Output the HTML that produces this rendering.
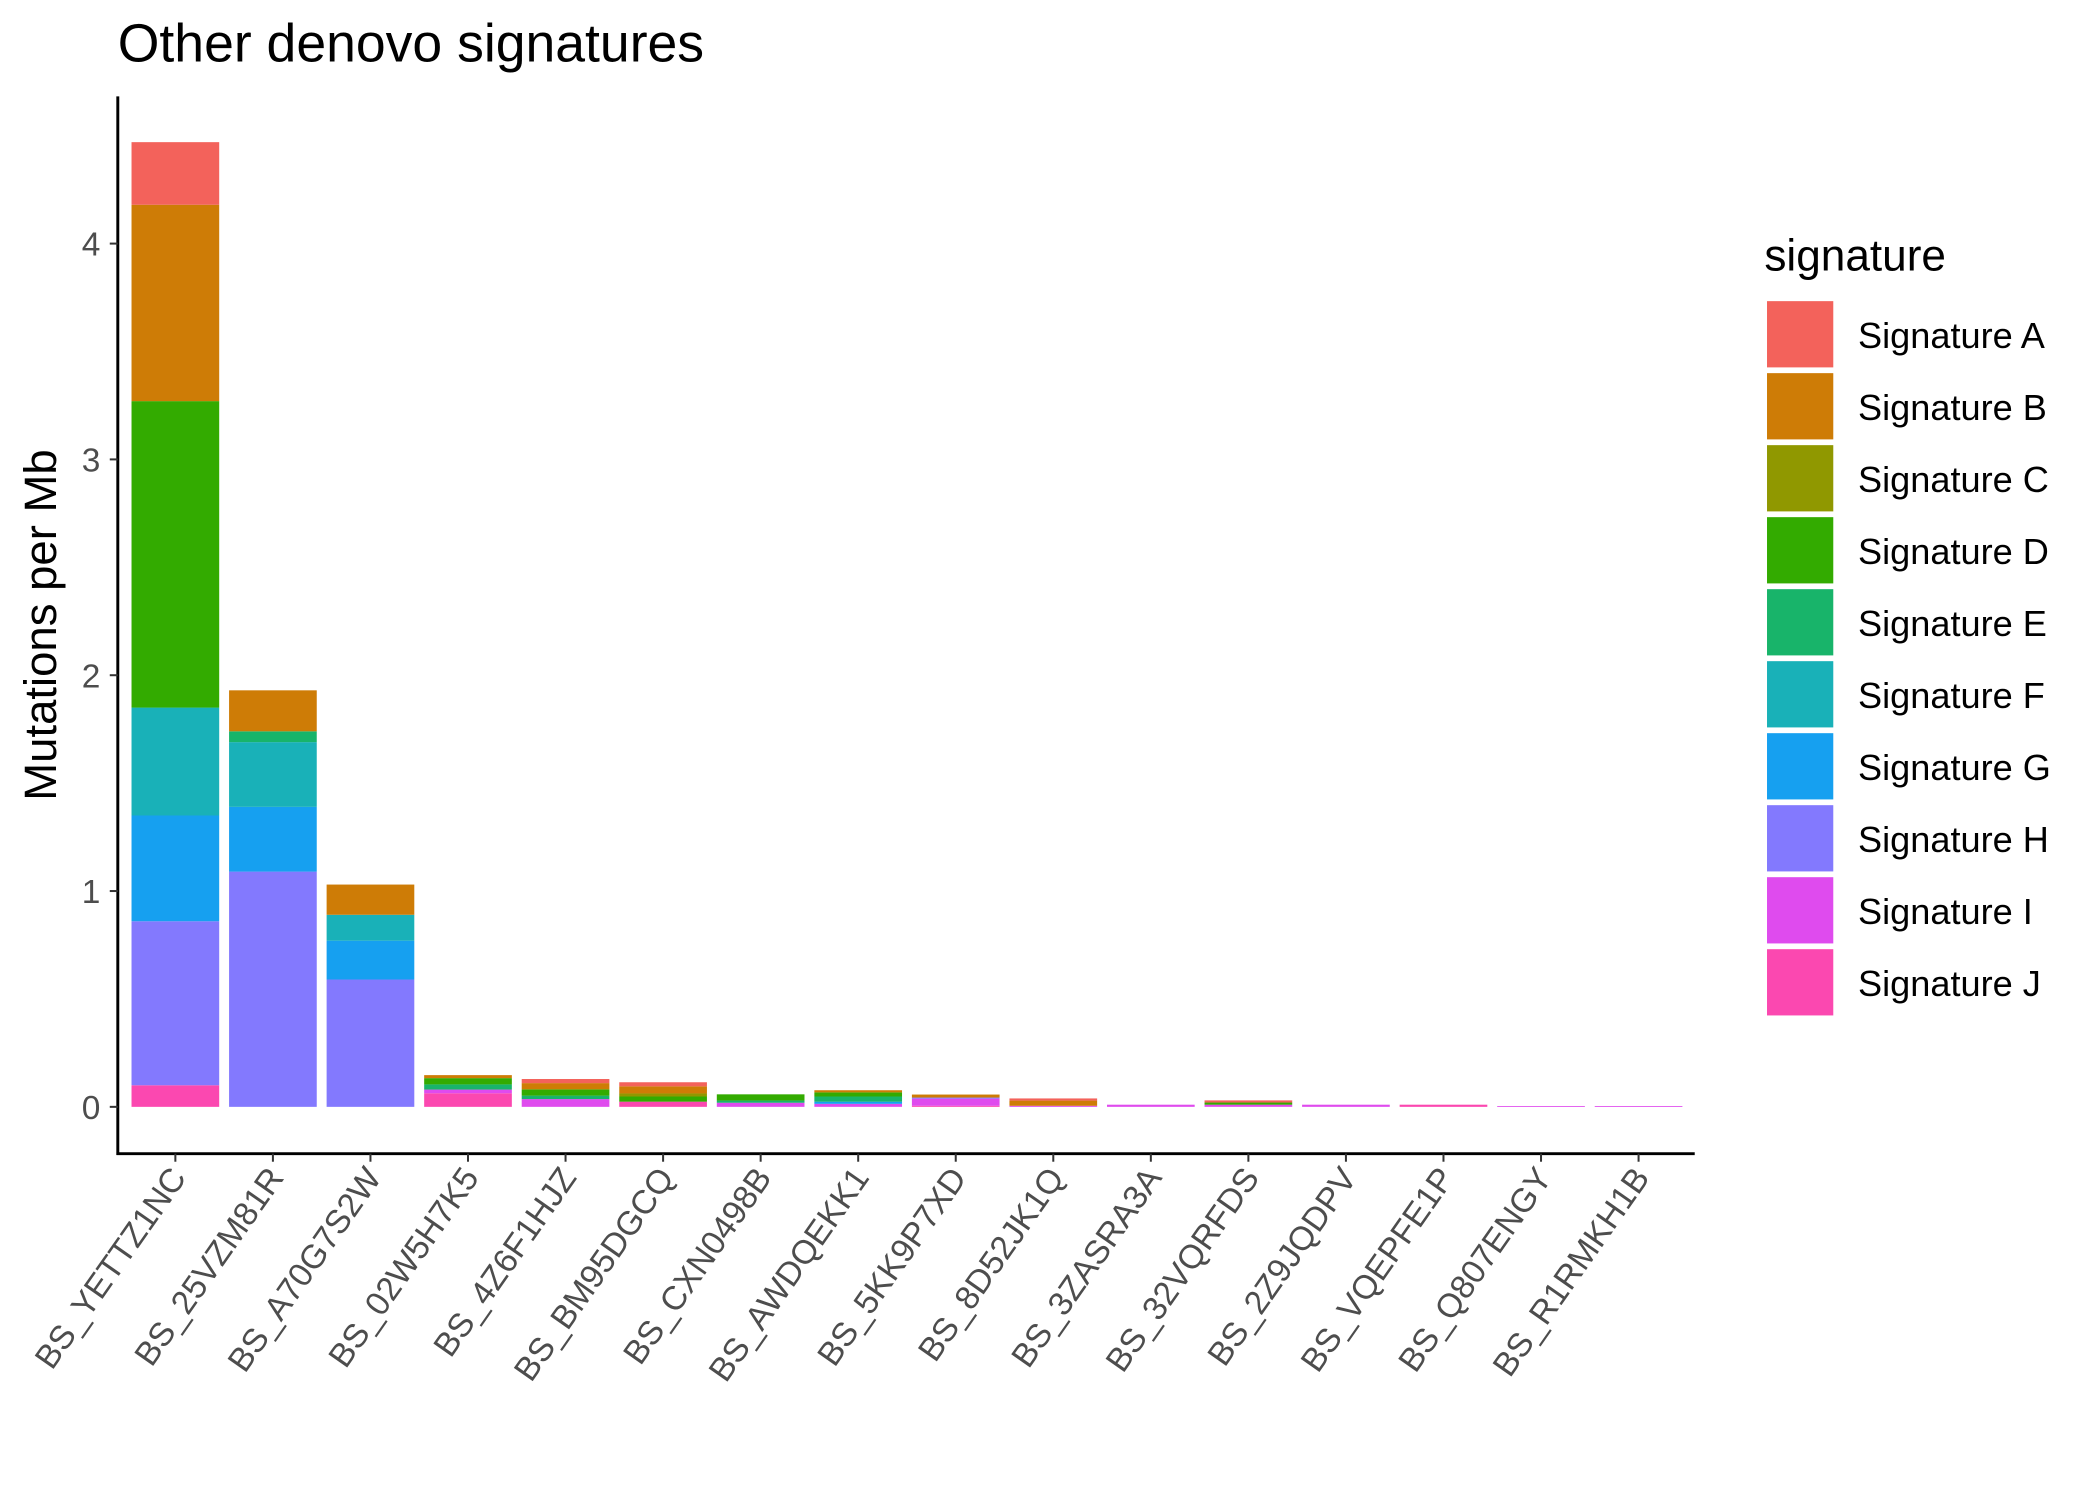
<!DOCTYPE html>
<html><head><meta charset="utf-8"><style>html,body{margin:0;padding:0;background:#fff}svg{display:block}</style></head>
<body>
<svg id="chart" width="2099" height="1499" viewBox="0 0 1568 1120" preserveAspectRatio="none" xmlns="http://www.w3.org/2000/svg" font-family="Liberation Sans, Arial, sans-serif">
<text x="88" y="46" font-size="40" fill="#000">Other denovo signatures</text>
<text transform="translate(42,467) rotate(-90)" text-anchor="middle" font-size="34" fill="#000">Mutations per Mb</text>
<g id="bars"></g>
<g id="axes"></g>
<g id="legend">
<text x="1318" y="202" font-size="33" fill="#000">signature</text>
</g>
</svg>
<script>
const categories = ["BS_YETTZ1NC","BS_25VZM81R","BS_A70G7S2W","BS_02W5H7K5","BS_4Z6F1HJZ","BS_BM95DGCQ","BS_CXN0498B","BS_AWDQEKK1","BS_5KK9P7XD","BS_8D52JK1Q","BS_3ZASRA3A","BS_32VQRFDS","BS_2Z9JQDPV","BS_VQEPFE1P","BS_Q807ENGY","BS_R1RMKH1B"];
const sigNames = ["Signature A","Signature B","Signature C","Signature D","Signature E","Signature F","Signature G","Signature H","Signature I","Signature J"];
const sigColorsReal = ["#F3625B","#CE7C06","#909800","#33AB00","#18B46A","#19B1B8","#16A0F0","#8379FE","#DF4BEE","#FB48B0"];
// values per signature (stacked bottom J -> top A)
const sigA = [0.29,0,0,0,0.019,0.019,0,0,0,0.01,0,0.01,0,0,0,0];
const sigB = [0.91,0.19,0.14,0.014,0.029,0.033,0,0.01,0.014,0.024,0,0,0,0,0,0];
const sigC = [0,0,0,0,0,0.014,0,0,0,0,0,0,0,0,0,0];
const sigD = [1.42,0,0,0.029,0.029,0.024,0.029,0.019,0,0,0,0.01,0,0,0,0];
const sigE = [0,0.05,0,0.024,0.016,0,0.01,0.024,0,0,0,0,0,0,0,0];
const sigF = [0.50,0.30,0.12,0,0,0,0,0,0,0,0,0,0,0,0,0];
const sigG = [0.49,0.30,0.18,0,0,0,0,0.01,0,0,0,0,0,0,0,0];
const sigH = [0.76,1.09,0.59,0,0,0,0,0,0.005,0,0,0,0,0,0,0];
const sigI = [0,0,0,0.017,0.036,0,0.019,0.014,0.033,0.005,0.01,0.01,0.01,0,0.004,0.004];
const sigJ = [0.10,0,0,0.063,0,0.024,0,0,0.005,0,0,0,0,0.01,0,0];
const yTicks = [0,1,2,3,4];

const series = [sigA,sigB,sigC,sigD,sigE,sigF,sigG,sigH,sigI,sigJ];
const NS = "http://www.w3.org/2000/svg";
const y0 = 827, pxPerUnit = 161.25;
const yScale = v => y0 - v*pxPerUnit;
const x0 = 131, step = 72.87, bw = 65.5;
const xScale = i => x0 + i*step;
function mk(tag, attrs, parent){const e=document.createElementNS(NS,tag);for(const k in attrs)e.setAttribute(k,attrs[k]);parent.appendChild(e);return e;}
const bars = document.getElementById('bars');
for (let i=0;i<categories.length;i++){
  let cum=0;
  for (let s=series.length-1;s>=0;s--){
    const v=series[s][i]; if(!v) continue;
    const r=mk('rect',{x:xScale(i)-bw/2,y:yScale(cum+v),width:bw,height:yScale(cum)-yScale(cum+v),fill:sigColorsReal[s]},bars);
    
    
    cum+=v;
  }
}
const axes=document.getElementById('axes');
let l=mk('line',{x1:88,y1:72,x2:88,y2:863,stroke:'#000','stroke-width':2.2},axes);


l=mk('line',{x1:87,y1:862,x2:1266,y2:862,stroke:'#000','stroke-width':2.2},axes);


yTicks.forEach(t=>{
  const y=yScale(t);
  mk('line',{x1:82,y1:y,x2:88,y2:y,stroke:'#333','stroke-width':1.5},axes);
  const tx=mk('text',{x:75,y:y+9,'text-anchor':'end','font-size':25,fill:'#4d4d4d'},axes);
  tx.textContent=t;
  
  
});
categories.forEach((c,i)=>{
  const x=xScale(i);
  mk('line',{x1:x,y1:862,x2:x,y2:868,stroke:'#333','stroke-width':1.5},axes);
  const tx=mk('text',{transform:`translate(${x+9},${880}) rotate(-55)`,'text-anchor':'end','font-size':25,fill:'#4d4d4d'},axes);
  tx.textContent=c;
  
  
});
const legend=document.getElementById('legend');
sigNames.forEach((n,k)=>{
  const y=225+k*53.8;
  const r=mk('rect',{x:1320,y:y,width:49.5,height:49.5,fill:sigColorsReal[k]},legend);
  
  
  const t=mk('text',{x:1388,y:y+35,'font-size':27,fill:'#000'},legend);
  t.textContent=n;
  
  
});
</script>
</body></html>
